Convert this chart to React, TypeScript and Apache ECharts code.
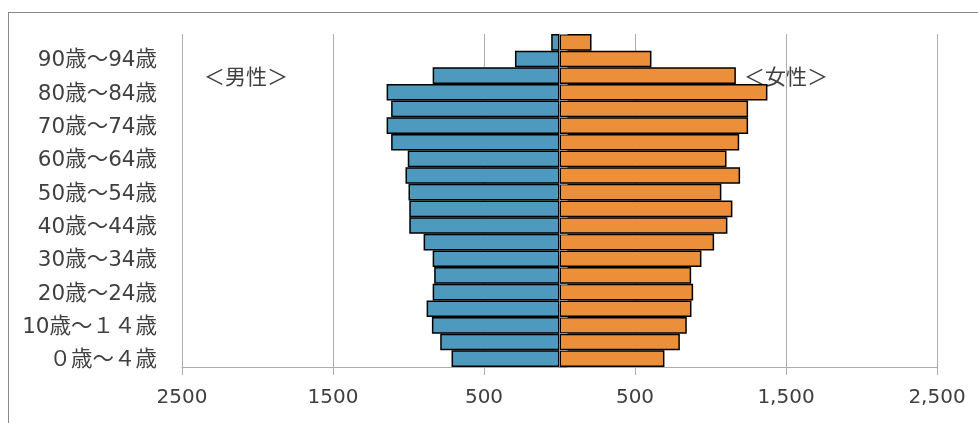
import React, { useEffect, useRef } from "react";
import * as echarts from "echarts";

// Age bands, youngest first (bottom of the pyramid)
const ageGroups = [
  "０歳～４歳", "5歳～9歳", "10歳～１４歳", "15歳～19歳", "20歳～24歳",
  "25歳～29歳", "30歳～34歳", "35歳～39歳", "40歳～44歳", "45歳～49歳",
  "50歳～54歳", "55歳～59歳", "60歳～64歳", "65歳～69歳", "70歳～74歳",
  "75歳～79歳", "80歳～84歳", "85歳～89歳", "90歳～94歳", "95歳～99歳",
];

// Population per band
const male = [
  715, 790, 845, 880, 840, 830, 840, 900, 995, 995,
  1000, 1020, 1005, 1115, 1145, 1115, 1145, 840, 295, 55,
];
const female = [
  695, 797, 843, 874, 885, 872, 940, 1024, 1112, 1145,
  1072, 1196, 1106, 1190, 1249, 1249, 1377, 1168, 609, 212,
];

const xTicks = { min: -2500, max: 2500, interval: 1000 };

const FONT = "'DejaVu Sans', 'Noto Sans CJK JP', sans-serif";
const TEXT = "#404040";
const GRID = "#adadad";

function withCommas(n: number): string {
  return String(n).replace(/\B(?=(\d{3})+(?!\d))/g, ",");
}

export default function App() {
  const ref = useRef<HTMLDivElement>(null);

  useEffect(() => {
    if (!ref.current) return;
    const chart = echarts.init(ref.current, null, { renderer: "svg" });
    chart.setOption({
      animation: false,
      grid: {
        left: 182,
        right: 41,
        top: 34,
        bottom: 56,
        containLabel: false,
        outerBoundsMode: "none",
      },
      xAxis: {
        type: "value",
        min: xTicks.min,
        max: xTicks.max,
        interval: xTicks.interval,
        axisLine: { show: true, onZero: false, lineStyle: { color: GRID, width: 1 } },
        axisTick: { show: true, length: 8, lineStyle: { color: GRID } },
        splitLine: { show: true, lineStyle: { color: GRID, width: 1 } },
        axisLabel: {
          color: TEXT,
          fontFamily: FONT,
          fontSize: 20,
          margin: 19,
          formatter: (v: number) => (v < 0 ? String(-v) : withCommas(v)),
        },
      },
      yAxis: [
        {
          type: "category",
          data: ageGroups,
          position: "left",
          axisLine: { show: false, onZero: false },
          axisTick: { show: false },
          axisLabel: {
            interval: 1,
            color: TEXT,
            fontFamily: FONT,
            fontSize: 21.5,
            margin: 25,
            padding: [5, 0, 0, 0],
          },
        },
        {
          type: "category",
          data: ageGroups,
          position: "right",
          z: 5,
          axisLine: { show: true, onZero: true, lineStyle: { color: "#8a8a8a", width: 1 } },
          axisTick: { show: true, length: 8, inside: false, lineStyle: { color: "#8a8a8a" } },
          axisLabel: { show: false },
        },
      ],
      series: [
        {
          name: "男性",
          type: "bar",
          yAxisIndex: 0,
          data: male.map((v) => -v),
          barWidth: "100%",
          barGap: "-100%",
          itemStyle: { color: "#4e99be", borderColor: "#000", borderWidth: 1.5 },
        },
        {
          name: "女性",
          type: "bar",
          yAxisIndex: 0,
          data: female,
          barWidth: "100%",
          barGap: "-100%",
          itemStyle: { color: "#ec8f3b", borderColor: "#000", borderWidth: 1.5 },
        },
      ],
      graphic: [
        {
          type: "text",
          left: 204,
          top: 66,
          style: { text: "＜男性＞", fill: TEXT, font: `21px ${FONT}` },
        },
        {
          type: "text",
          left: 744,
          top: 66,
          style: { text: "＜女性＞", fill: TEXT, font: `21px ${FONT}` },
        },
      ],
    });
    return () => chart.dispose();
  }, []);

  return (
    <>
      <div
        style={{
          position: "fixed",
          left: 8,
          top: 12,
          width: 970,
          height: 411,
          boxSizing: "border-box",
          borderTop: "1px solid #888",
          borderLeft: "1px solid #888",
        }}
      />
      <div
        ref={ref}
        style={{ position: "fixed", left: 0, top: 0, width: 978, height: 423 }}
      />
    </>
  );
}
